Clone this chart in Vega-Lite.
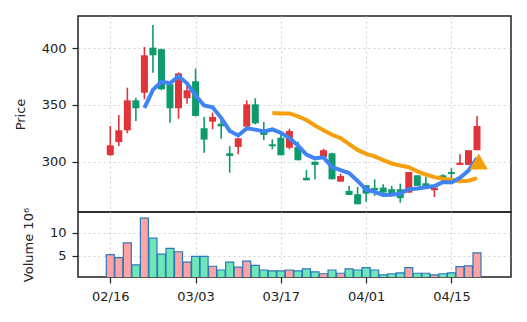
{
  "$schema": "https://vega.github.io/schema/vega-lite/v6.json",
  "padding": {"left": 13, "top": 15, "right": 13, "bottom": 5},
  "background": "white",
  "spacing": 0,
  "bounds": "flush",
  "config": {
    "font": "DejaVu Sans",
    "view": {"stroke": "#222", "strokeWidth": 1.5},
    "axis": {
      "labelFont": "DejaVu Sans", "labelFontSize": 13, "labelColor": "#222",
      "titleFont": "DejaVu Sans", "titleFontSize": 13, "titleFontWeight": "normal", "titleColor": "#222",
      "tickColor": "#222", "tickSize": 6, "tickWidth": 1.2, "domain": false,
      "gridColor": "#d4d4d4", "gridDash": [2, 3], "gridWidth": 1.2, "labelPadding": 6
    }
  },
  "datasets": {
    "k": [
      {"i":0,"o":306.0,"h":331.6,"l":305.3,"c":314.6,"v":5.3,"ma5":null,"ma20":null},
      {"i":1,"o":317.5,"h":341.2,"l":314.0,"c":327.8,"v":4.65,"ma5":null,"ma20":null},
      {"i":2,"o":327.8,"h":365.2,"l":325.2,"c":354.1,"v":7.8,"ma5":null,"ma20":null},
      {"i":3,"o":354.1,"h":356.4,"l":336.0,"c":347.1,"v":3.1,"ma5":null,"ma20":null},
      {"i":4,"o":360.8,"h":400.9,"l":355.0,"c":393.6,"v":13.1,"ma5":347.44,"ma20":null},
      {"i":5,"o":400.3,"h":420.2,"l":378.3,"c":393.6,"v":8.8,"ma5":363.24,"ma20":null},
      {"i":6,"o":398.9,"h":399.5,"l":363.0,"c":363.8,"v":5.4,"ma5":370.44,"ma20":null},
      {"i":7,"o":368.2,"h":369.0,"l":334.5,"c":347.1,"v":6.6,"ma5":369.04,"ma20":null},
      {"i":8,"o":347.1,"h":378.5,"l":338.0,"c":377.8,"v":5.9,"ma5":375.18,"ma20":null},
      {"i":9,"o":355.9,"h":366.7,"l":351.0,"c":362.9,"v":3.7,"ma5":369.04,"ma20":null},
      {"i":10,"o":370.8,"h":381.8,"l":340.0,"c":340.4,"v":4.9,"ma5":358.4,"ma20":null},
      {"i":11,"o":329.6,"h":339.5,"l":308.2,"c":319.6,"v":4.9,"ma5":349.56,"ma20":null},
      {"i":12,"o":335.4,"h":343.3,"l":328.7,"c":339.5,"v":2.8,"ma5":348.04,"ma20":null},
      {"i":13,"o":333.6,"h":338.9,"l":320.4,"c":331.3,"v":2.0,"ma5":338.74,"ma20":null},
      {"i":14,"o":307.6,"h":314.0,"l":290.6,"c":305.3,"v":3.7,"ma5":327.22,"ma20":null},
      {"i":15,"o":313.2,"h":320.8,"l":306.7,"c":320.8,"v":2.6,"ma5":323.3,"ma20":null},
      {"i":16,"o":331.0,"h":354.1,"l":331.0,"c":350.6,"v":3.9,"ma5":329.5,"ma20":null},
      {"i":17,"o":350.6,"h":355.9,"l":333.0,"c":333.9,"v":3.0,"ma5":328.38,"ma20":null},
      {"i":18,"o":326.3,"h":335.1,"l":319.3,"c":323.7,"v":2.0,"ma5":326.86,"ma20":null},
      {"i":19,"o":315.5,"h":319.9,"l":311.1,"c":313.8,"v":1.8,"ma5":328.56,"ma20":343.07},
      {"i":20,"o":321.3,"h":323.7,"l":305.9,"c":305.9,"v":1.8,"ma5":325.58,"ma20":342.63},
      {"i":21,"o":312.5,"h":329.2,"l":311.1,"c":327.2,"v":2.0,"ma5":320.9,"ma20":342.6},
      {"i":22,"o":313.2,"h":317.8,"l":301.5,"c":301.5,"v":1.8,"ma5":314.42,"ma20":339.97},
      {"i":23,"o":286.2,"h":293.0,"l":283.9,"c":283.9,"v":2.25,"ma5":306.46,"ma20":336.81},
      {"i":24,"o":300.3,"h":300.3,"l":284.8,"c":297.4,"v":1.6,"ma5":303.18,"ma20":332.0},
      {"i":25,"o":304.4,"h":311.7,"l":303.5,"c":310.3,"v":1.2,"ma5":304.06,"ma20":327.84},
      {"i":26,"o":307.6,"h":308.0,"l":284.8,"c":284.8,"v":2.0,"ma5":295.58,"ma20":323.89},
      {"i":27,"o":282.7,"h":289.7,"l":282.7,"c":287.7,"v":1.3,"ma5":292.82,"ma20":320.92},
      {"i":28,"o":274.6,"h":278.9,"l":271.1,"c":271.1,"v":2.25,"ma5":290.26,"ma20":315.58},
      {"i":29,"o":271.7,"h":278.1,"l":262.9,"c":262.9,"v":2.0,"ma5":283.36,"ma20":310.58},
      {"i":30,"o":279.6,"h":279.6,"l":265.2,"c":272.2,"v":2.5,"ma5":275.74,"ma20":307.17},
      {"i":31,"o":277.2,"h":284.8,"l":270.2,"c":275.4,"v":2.0,"ma5":273.86,"ma20":304.96},
      {"i":32,"o":277.5,"h":280.4,"l":273.1,"c":273.1,"v":0.95,"ma5":270.94,"ma20":301.64},
      {"i":33,"o":276.1,"h":279.0,"l":272.2,"c":272.2,"v":1.2,"ma5":271.16,"ma20":298.69},
      {"i":34,"o":276.1,"h":281.0,"l":264.3,"c":268.2,"v":1.4,"ma5":272.22,"ma20":296.83},
      {"i":35,"o":273.1,"h":291.2,"l":273.1,"c":291.2,"v":2.5,"ma5":276.02,"ma20":295.35},
      {"i":36,"o":288.3,"h":288.3,"l":279.0,"c":279.0,"v":1.3,"ma5":276.74,"ma20":291.77},
      {"i":37,"o":281.3,"h":286.8,"l":278.3,"c":278.3,"v":1.3,"ma5":277.78,"ma20":288.99},
      {"i":38,"o":275.2,"h":277.5,"l":269.3,"c":277.5,"v":0.95,"ma5":278.84,"ma20":286.68},
      {"i":39,"o":288.3,"h":289.2,"l":285.7,"c":285.7,"v":1.2,"ma5":282.34,"ma20":285.28},
      {"i":40,"o":291.2,"h":294.5,"l":285.7,"c":289.5,"v":1.4,"ma5":282.0,"ma20":284.46},
      {"i":41,"o":297.4,"h":306.7,"l":297.4,"c":299.4,"v":2.7,"ma5":286.08,"ma20":283.07},
      {"i":42,"o":297.4,"h":310.3,"l":297.4,"c":310.3,"v":2.9,"ma5":292.48,"ma20":283.51},
      {"i":43,"o":310.3,"h":340.4,"l":310.3,"c":331.6,"v":5.65,"ma5":303.3,"ma20":285.89}
    ],
    "marker": [{"i": 43.2, "p": 300.5}]
  },
  "vconcat": [
    {
      "width": 433,
      "height": 196,
      "data": {"name": "k"},
      "layer": [
        {
          "mark": {"type": "rule", "strokeWidth": 1.6, "clip": true},
          "encoding": {
            "x": {"field": "i", "type": "quantitative", "title": null,
                  "scale": {"domain": [-3.2, 46.4], "nice": false, "zero": false},
                  "axis": {"values": [0, 10, 20, 30, 40], "labels": false, "ticks": false, "grid": true}},
            "y": {"field": "l", "type": "quantitative", "title": "Price",
                  "scale": {"domain": [256.1, 428.1], "nice": false, "zero": false},
                  "axis": {"values": [300, 350, 400], "grid": true, "titlePadding": 14}},
            "y2": {"field": "h"},
            "color": {"condition": {"test": "datum.c >= datum.o", "value": "#e0343a"}, "value": "#0e9a6c"}
          }
        },
        {
          "mark": {"type": "bar", "size": 7, "clip": true},
          "encoding": {
            "x": {"field": "i", "type": "quantitative", "title": null},
            "y": {"field": "o", "type": "quantitative", "title": "Price"},
            "y2": {"field": "c"},
            "color": {"condition": {"test": "datum.c >= datum.o", "value": "#e0343a"}, "value": "#0e9a6c"}
          }
        },
        {
          "transform": [{"filter": "datum.ma20 != null"}],
          "mark": {"type": "line", "strokeWidth": 4, "color": "#f59f0c", "clip": true},
          "encoding": {
            "x": {"field": "i", "type": "quantitative", "title": null},
            "y": {"field": "ma20", "type": "quantitative", "title": "Price"}
          }
        },
        {
          "transform": [{"filter": "datum.ma5 != null"}],
          "mark": {"type": "line", "strokeWidth": 4, "color": "#3f83f4", "clip": true},
          "encoding": {
            "x": {"field": "i", "type": "quantitative", "title": null},
            "y": {"field": "ma5", "type": "quantitative", "title": "Price"}
          }
        },
        {
          "data": {"name": "marker"},
          "mark": {"type": "point", "shape": "triangle-up", "size": 340, "filled": true, "color": "#f59f0c", "opacity": 1},
          "encoding": {
            "x": {"field": "i", "type": "quantitative", "title": null},
            "y": {"field": "p", "type": "quantitative", "title": "Price"}
          }
        }
      ]
    },
    {
      "width": 433,
      "height": 65,
      "data": {"name": "k"},
      "mark": {"type": "bar", "size": 8, "stroke": "#2a78bd", "strokeWidth": 1.2, "clip": true},
      "encoding": {
        "x": {"field": "i", "type": "quantitative", "title": null,
              "scale": {"domain": [-3.2, 46.4], "nice": false, "zero": false},
              "axis": {"values": [0, 10, 20, 30, 40], "grid": true, "labelPadding": 7,
                       "labelExpr": "{'0':'02/16','10':'03/03','20':'03/17','30':'04/01','40':'04/15'}[datum.value]"}},
        "y": {"field": "v", "type": "quantitative", "title": "Volume  10⁶",
              "scale": {"domain": [0.5, 14.4], "nice": false, "zero": false},
              "axis": {"values": [5, 10], "grid": true, "titlePadding": 14}},
        "y2": {"datum": 0},
        "fill": {"condition": {"test": "datum.c >= datum.o", "value": "#ffa3a3"}, "value": "#6ee6b6"}
      }
    }
  ]
}
